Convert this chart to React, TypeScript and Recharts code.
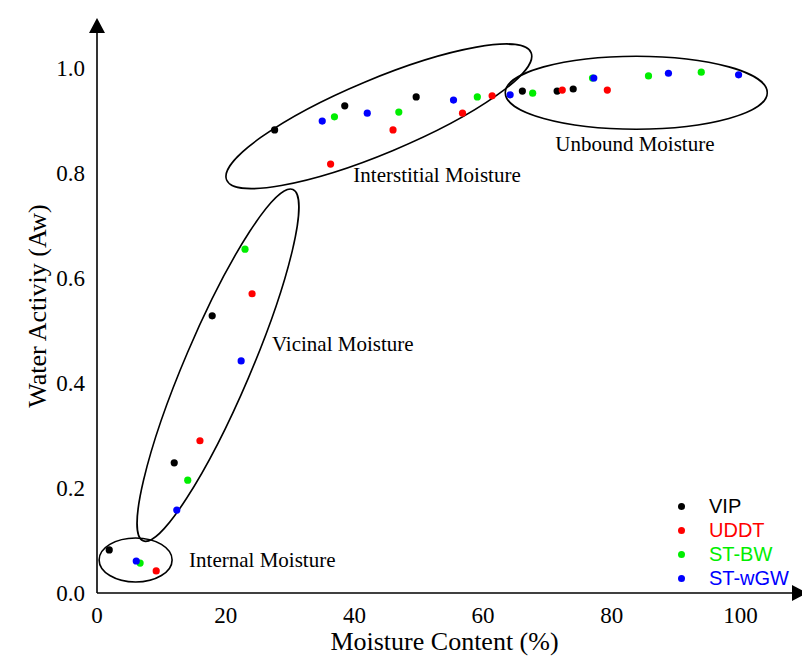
import React from 'react';
import { ScatterChart, Scatter, XAxis, YAxis } from 'recharts';

// tick values
const xTicks = [0, 20, 40, 60, 80, 100];
const yTicks = [0, 0.2, 0.4, 0.6, 0.8, 1.0];

// [moisture content %, water activity]
const vip = [
  [1.9, 0.082], [12.0, 0.248], [17.9, 0.528], [27.6, 0.882], [38.5, 0.928],
  [49.6, 0.945], [66.1, 0.956], [71.5, 0.956], [74.0, 0.96],
];
const uddt = [
  [9.2, 0.042], [16.0, 0.29], [24.1, 0.57], [36.3, 0.817], [46.0, 0.882],
  [56.8, 0.914], [61.4, 0.947], [72.3, 0.958], [79.3, 0.958],
];
const stBw = [
  [6.7, 0.057], [14.1, 0.215], [23.0, 0.655], [36.9, 0.907], [46.9, 0.916],
  [59.1, 0.945], [67.7, 0.952], [77.0, 0.981], [85.7, 0.985], [93.9, 0.992],
];
const stWgw = [
  [6.1, 0.061], [12.4, 0.158], [22.4, 0.442], [35.0, 0.899], [42.0, 0.914],
  [55.4, 0.939], [64.2, 0.949], [77.2, 0.981], [88.8, 0.99], [99.7, 0.987],
];

// moisture zones (centres in data units)
const zoneNames = ['Internal Moisture', 'Vicinal Moisture', 'Interstitial Moisture', 'Unbound Moisture'];
const zoneX = [6.0, 18.8, 43.8, 83.8];
const zoneY = [0.063, 0.434, 0.908, 0.953];

const series = [
  { name: 'VIP', points: vip, color: '#000000' },
  { name: 'UDDT', points: uddt, color: '#ff0000' },
  { name: 'ST-BW', points: stBw, color: '#00ee00' },
  { name: 'ST-wGW', points: stWgw, color: '#0000ff' },
];

const zones = zoneNames.map((name, i) => ({ name, x: zoneX[i], y: zoneY[i] }));

// ellipse size / rotation and label offset (px) for each zone
const zoneStyle: Record<string, any> = {
  'Internal Moisture': { rx: 36.5, ry: 22, angle: 0, dx: 53.5, dy: 7 },
  'Vicinal Moisture': { rx: 191, ry: 33, angle: -66.9, dx: 54, dy: -14 },
  'Interstitial Moisture': { rx: 165, ry: 37, angle: -22.7, dx: -25.5, dy: 65.5 },
  'Unbound Moisture': { rx: 131, ry: 36.5, angle: 0, dx: -81, dy: 58.5 },
};

const serif = '"Liberation Serif", "Times New Roman", serif';

const ZoneShape = (props: any) => {
  const { cx, cy, payload } = props;
  const s = zoneStyle[payload.name];
  return (
    <g>
      <ellipse
        cx={cx}
        cy={cy}
        rx={s.rx}
        ry={s.ry}
        fill="none"
        stroke="#000"
        strokeWidth={1.6}
        transform={`rotate(${s.angle} ${cx} ${cy})`}
      />
      <text x={cx + s.dx} y={cy + s.dy} fontFamily={serif} fontSize={21} fill="#000">
        {payload.name}
      </text>
    </g>
  );
};

const makeDot = (color: string) => (props: any) => (
  <circle cx={props.cx} cy={props.cy} r={3.6} fill={color} />
);

const XTick = (props: any) => {
  const { x, y, payload } = props;
  return (
    <text x={x} y={y} dy={16} textAnchor="middle" fontFamily={serif} fontSize={23} fill="#000">
      {payload.value}
    </text>
  );
};

const YTick = (props: any) => {
  const { x, y, payload } = props;
  return (
    <text x={x} y={y} dy={8} textAnchor="end" fontFamily={serif} fontSize={23} fill="#000">
      {Number(payload.value).toFixed(1)}
    </text>
  );
};

export default function App() {
  return (
    <div style={{ position: 'absolute', left: 0, top: 0, width: 802, height: 657, background: '#fff' }}>
      <svg width={0} height={0} style={{ position: 'absolute' }}>
        <defs>
          <marker
            id="arrowHead"
            viewBox="0 0 10 10"
            refX="0"
            refY="5"
            markerWidth="15"
            markerHeight="16"
            markerUnits="userSpaceOnUse"
            preserveAspectRatio="none"
            orient="auto-start-reverse"
          >
            <path d="M0,0 L10,5 L0,10 z" fill="#000" />
          </marker>
        </defs>
      </svg>

      <ScatterChart width={802} height={657} margin={{ top: 33, right: 10, bottom: 14, left: 37 }}>
        <XAxis
          type="number"
          dataKey="x"
          domain={[0, 108]}
          ticks={xTicks}
          height={50}
          tickLine={false}
          tickSize={0}
          tickMargin={14}
          axisLine={{ stroke: '#000', strokeWidth: 1.6, markerEnd: 'url(#arrowHead)' }}
          tick={<XTick />}
          label={{
            content: ({ viewBox }: any) => (
              <text
                x={viewBox.x + viewBox.width / 2}
                y={viewBox.y + 57}
                textAnchor="middle"
                fontFamily={serif}
                fontSize={26}
                fill="#000"
              >
                Moisture Content (%)
              </text>
            ),
          }}
        />
        <YAxis
          type="number"
          dataKey="y"
          domain={[0, 1.0667]}
          ticks={yTicks}
          width={60}
          tickLine={false}
          tickSize={0}
          tickMargin={12}
          axisLine={{ stroke: '#000', strokeWidth: 1.6, markerStart: 'url(#arrowHead)' }}
          tick={<YTick />}
          label={{
            content: ({ viewBox }: any) => {
              const lx = 37;
              const ly = viewBox.y + viewBox.height / 2 - 7;
              return (
                <text
                  x={lx}
                  y={ly}
                  textAnchor="middle"
                  dominantBaseline="central"
                  transform={`rotate(-90 ${lx} ${ly})`}
                  fontFamily={serif}
                  fontSize={26}
                  fill="#000"
                >
                  Water Activiy (Aw)
                </text>
              );
            },
          }}
        />

        <Scatter name="zones" data={zones} shape={ZoneShape} legendType="none" isAnimationActive={false} />

        {series.map((s) => (
          <Scatter
            key={s.name}
            name={s.name}
            data={s.points.map(([x, y]) => ({ x, y }))}
            fill={s.color}
            shape={makeDot(s.color)}
            isAnimationActive={false}
          />
        ))}
      </ScatterChart>

      {/* legend */}
      <div
        style={{
          position: 'absolute',
          left: 672,
          top: 494,
          fontFamily: '"Liberation Sans", Arial, sans-serif',
          fontSize: 20,
        }}
      >
        {series.map((s) => (
          <div key={s.name} style={{ display: 'flex', alignItems: 'center', height: 24 }}>
            <span
              style={{
                display: 'inline-block',
                width: 7,
                height: 7,
                borderRadius: '50%',
                background: s.color,
                marginLeft: 5.5,
              }}
            />
            <span style={{ color: s.color, marginLeft: 24.5, lineHeight: '24px' }}>{s.name}</span>
          </div>
        ))}
      </div>
    </div>
  );
}
